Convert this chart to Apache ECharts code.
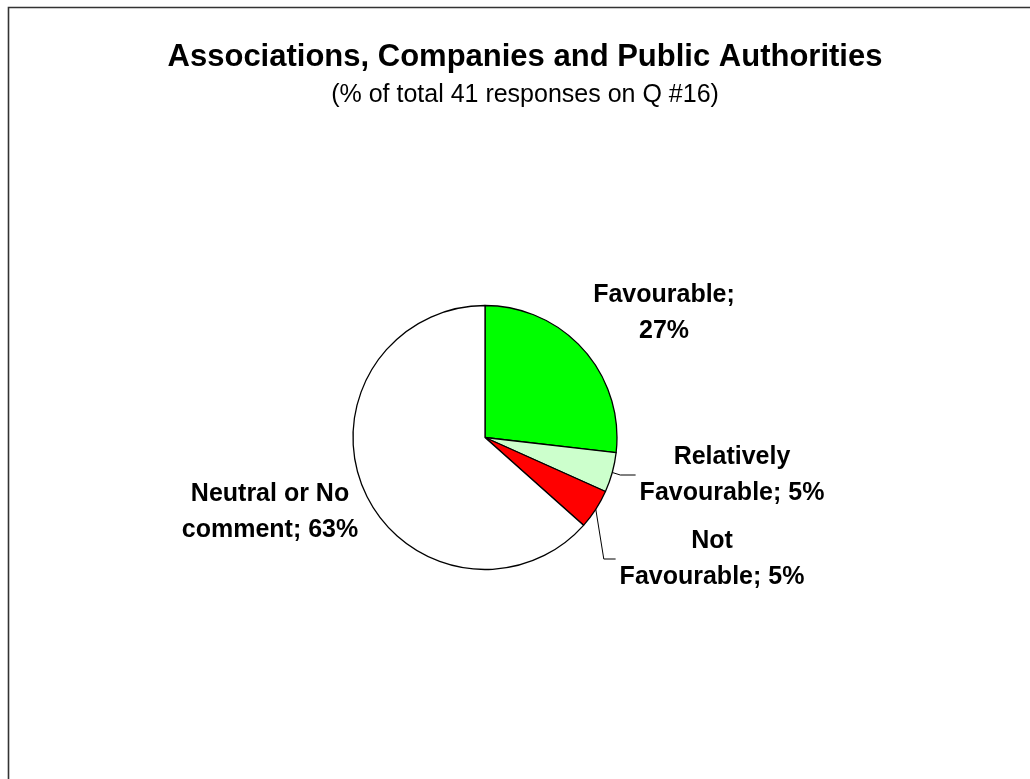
<!DOCTYPE html>
<html>
<head>
<meta charset="utf-8">
<script src="https://cdn.jsdelivr.net/npm/echarts@6/dist/echarts.min.js"></script>
<style>
  html, body { margin: 0; padding: 0; background: #ffffff; }
  #chart { width: 1030px; height: 779px; }
</style>
</head>
<body>
<div id="chart"></div>
<script>
// Survey answers to question 16 (41 responses)
const categories = ['Favourable', 'Relatively Favourable', 'Not Favourable', 'Neutral or No comment'];
const responses = [11, 2, 2, 26];
const sliceColors = ['#00FF00', '#CCFFCC', '#FF0000', '#FFFFFF'];
const titleText = 'Associations, Companies and Public Authorities';
const subtitleText = '(% of total 41 responses on Q #16)';

// Label placement: centre of each label block, word after which it wraps,
// and whether a leader line joins it to its slice
const labelCentres = [[664, 313], [732, 475], [712, 559], [270, 512]];
const wrapAfter = [1, 1, 1, 3];
const withLeaderLine = [false, true, true, false];

const FONT = '"Liberation Sans", Arial, Helvetica, sans-serif';

const chart = echarts.init(document.getElementById('chart'), null, { renderer: 'canvas' });

const pieData = categories.map((name, i) => ({
  name: name,
  value: responses[i],
  itemStyle: { color: sliceColors[i] },
  labelLine: { show: withLeaderLine[i] }
}));

chart.setOption({
  backgroundColor: '#ffffff',
  animation: false,
  title: {
    text: titleText,
    subtext: subtitleText,
    left: 520,
    top: 37,
    textAlign: 'center',
    itemGap: 10,
    textStyle: { fontFamily: FONT, fontSize: 31, fontWeight: 'bold', color: '#000000' },
    subtextStyle: { fontFamily: FONT, fontSize: 25, color: '#000000' }
  },
  graphic: [{
    // chart-area frame (runs past the right and bottom edges)
    type: 'rect',
    shape: { x: 8.5, y: 7.5, width: 1200, height: 900 },
    style: { fill: null, stroke: '#333333', lineWidth: 1.6 },
    silent: true,
    z: 100
  }],
  series: [{
    type: 'pie',
    center: [485, 437.5],
    radius: 132,
    startAngle: 90,
    clockwise: true,
    avoidLabelOverlap: false,
    itemStyle: { borderColor: '#000000', borderWidth: 1.3 },
    emphasis: { disabled: true },
    label: {
      show: true,
      position: 'outside',
      fontFamily: FONT,
      fontSize: 25,
      fontWeight: 'bold',
      color: '#000000',
      lineHeight: 36,
      align: 'center',
      formatter: function (p) {
        const words = (p.name + '; ' + Math.round(p.percent) + '%').split(' ');
        const k = wrapAfter[p.dataIndex];
        return words.slice(0, k).join(' ') + '\n' + words.slice(k).join(' ');
      }
    },
    labelLine: {
      show: true,
      length: 8,
      length2: 10,
      lineStyle: { color: '#000000', width: 1 }
    },
    labelLayout: function (params) {
      const i = params.dataIndex;
      const c = labelCentres[i];
      const out = { x: c[0], y: c[1], align: 'center', verticalAlign: 'middle' };
      if (withLeaderLine[i] && params.labelLinePoints) {
        const start = params.labelLinePoints[0];
        const endX = c[0] - params.labelRect.width / 2 - 4;
        out.labelLinePoints = [
          [start[0], start[1]],
          [start[0] + 8, c[1]],
          [endX, c[1]]
        ];
      }
      return out;
    },
    data: pieData
  }]
});
</script>
</body>
</html>
